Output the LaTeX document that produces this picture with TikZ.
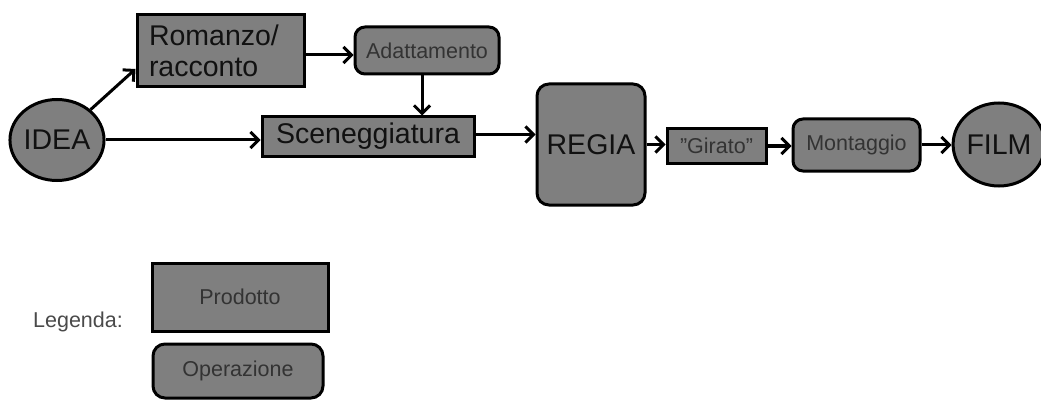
\documentclass[tikz,border=0pt]{standalone}
\usepackage{fontspec}
\setmainfont{Liberation Sans}
\usetikzlibrary{arrows.meta,calc,shapes.geometric}
\definecolor{boxfill}{HTML}{7F7F7F}
\definecolor{smalltext}{HTML}{333333}
\definecolor{legtext}{HTML}{4A4A4A}
\definecolor{bigtext}{HTML}{111111}
\tikzset{
  base/.style={draw=black, line width=3pt, fill=boxfill, inner sep=0pt},
  prod/.style={base, rectangle},
  oper/.style={base, rectangle, rounded corners=10pt},
  oval/.style={base, ellipse},
  big/.style={font=\fontsize{28.5}{31}\selectfont, text=bigtext},
  small/.style={font=\fontsize{21.5}{24}\selectfont, text=smalltext},
  arr/.style={line width=3pt, -{Straight Barb[length=8pt,width=16pt,line width=3pt]}},
}
\begin{document}
\begin{tikzpicture}[x=1pt,y=-1pt]
\useasboundingbox (0,0) rectangle (1041,401);
% nodes
\node[oval, big, minimum width=93pt, minimum height=81pt] (idea) at (57,140) {IDEA};
\node[prod, big, minimum width=167pt, minimum height=72pt, text width=143pt, inner xsep=12pt, align=left] (roman) at (220.5,51) {Romanzo/\\racconto};
\node[oper, small, minimum width=144pt, minimum height=47pt] (adatt) at (427,50.5) {Adattamento};
\node[prod, big, minimum width=212pt, minimum height=39pt] (scen) at (368,136.5) {Sceneggiatura};
\node[oper, big, rounded corners=12pt, minimum width=108pt, minimum height=121pt] (regia) at (591,144.5) {REGIA};
\node[prod, small, minimum width=99pt, minimum height=34pt] (girato) at (716.5,146) {\char"22Girato\char"22};
\node[oper, small, minimum width=127pt, minimum height=52pt] (mont) at (856.5,145) {Montaggio};
\node[oval, big, minimum width=86pt, minimum height=83pt] (film) at (999,144.5) {FILM};
% legend
\node[small, text=legtext] (leg) at (78,322) {Legenda:};
\node[prod, small, minimum width=176pt, minimum height=68pt] (lprod) at (240,297) {Prodotto};
\node[oper, small, rounded corners=12pt, minimum width=170pt, minimum height=54pt] (loper) at (238,371) {Operazione};
% connectors
\draw[arr] (idea) -- ($(roman.south west)!0.26!(roman.north west)$);
\draw[arr] ([yshift=-4pt]roman.east) -- ([yshift=-4pt]roman.east -| adatt.west);
\draw[arr] ([xshift=-5pt]adatt.south) -- ([xshift=-5pt]adatt.south |- scen.north);
\draw[arr] (idea.east) -- (idea.east -| scen.west);
\draw[arr] ([yshift=2pt]scen.east) -- ([yshift=2pt]scen.east -| regia.west);
\draw[arr] (regia.east) -- (regia.east -| girato.west);
\draw[arr] (girato.east) -- (girato.east -| mont.west);
\draw[arr] (mont.east) -- (mont.east -| film.west);
\end{tikzpicture}
\end{document}
